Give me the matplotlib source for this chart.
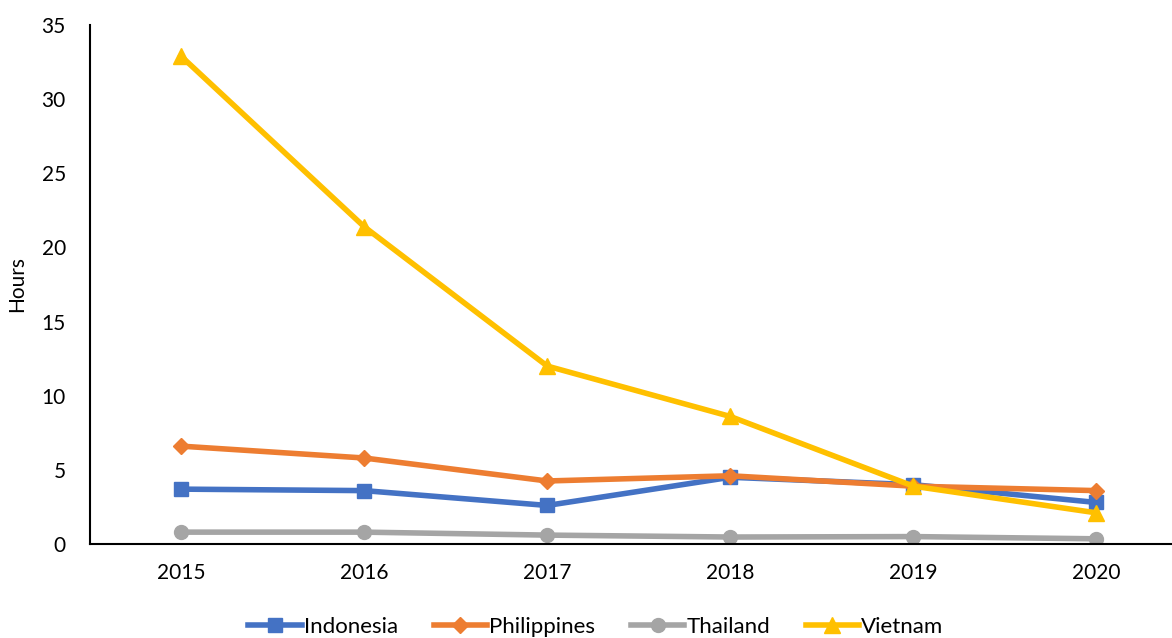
import matplotlib.pyplot as plt

years = ['2015', '2016', '2017', '2018', '2019', '2020']
indonesia = [3.7, 3.6, 2.6, 4.5, 4.0, 2.8]
philippines = [6.6, 5.8, 4.25, 4.6, 3.9, 3.6]
thailand = [0.8, 0.8, 0.6, 0.47, 0.5, 0.35]
vietnam = [32.9, 21.4, 12.0, 8.6, 3.9, 2.1]

plt.rcParams['font.family'] = ['Lato', 'DejaVu Sans']

fig = plt.figure(figsize=(11.72, 6.38), dpi=100)
# axes runs a bit past the right edge of the figure, as in the original
ax = fig.add_axes([89.5/1172, (638-544)/638, (1188-89.5)/1172, (544-25)/638])

x = range(len(years))
ax.plot(x, indonesia, color='#4472C4', lw=4, marker='s', ms=10, label='Indonesia')
ax.plot(x, philippines, color='#ED7D31', lw=4, marker='D', ms=8, label='Philippines')
ax.plot(x, thailand, color='#A5A5A5', lw=4, marker='o', ms=10, label='Thailand')
ax.plot(x, vietnam, color='#FFC000', lw=4, marker='^', ms=11, label='Vietnam')

ax.set_xlim(-0.5, 5.5)
ax.set_ylim(0, 35)
ax.set_xticks(list(x))
ax.set_xticklabels(years)
ax.set_yticks(range(0, 36, 5))
ax.tick_params(axis='both', length=0, labelsize=15, colors='black', pad=14)
ax.tick_params(axis='y', pad=17)
ax.spines['top'].set_visible(False)
ax.spines['right'].set_visible(False)
ax.spines['left'].set_linewidth(1.5)
ax.spines['bottom'].set_linewidth(1.5)
ax.set_ylabel('Hours', fontsize=15, labelpad=10)
ax.yaxis.set_label_coords(-0.057, 0.5)

fig.legend(loc='center', bbox_to_anchor=(596/1172, 1-627/638), ncol=4, frameon=False,
           fontsize=16, handlelength=2.4, handletextpad=0.1, columnspacing=1.6)

fig.savefig('out.png', dpi=100)
